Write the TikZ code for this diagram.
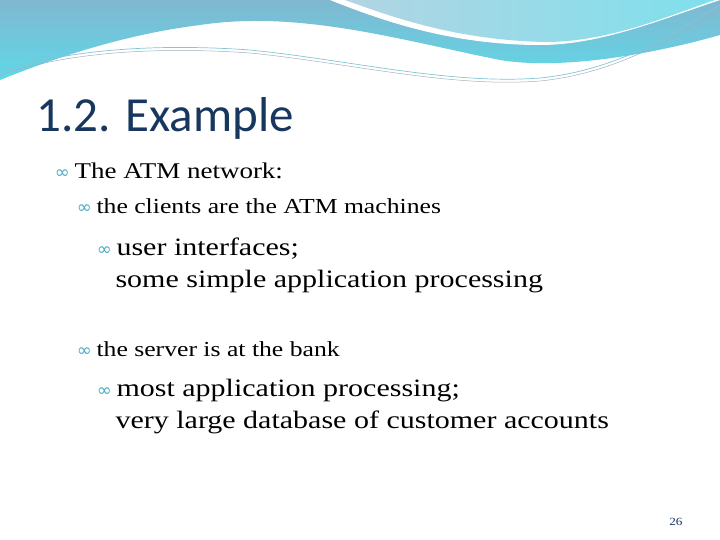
\documentclass[tikz,border=0pt]{standalone}
\usepackage{fontspec}
\setmainfont[FakeStretch=1.2]{Liberation Serif}
\newfontfamily\titlefont{Carlito}
\newfontfamily\symfont{DejaVu Sans}
\usetikzlibrary{positioning}
\definecolor{titleblue}{HTML}{17375E}
\definecolor{wavetop}{HTML}{7FB8D0}
\definecolor{wavelow}{HTML}{5FD8E8}
\definecolor{bulletteal}{HTML}{4BACC6}
\begin{document}
\begin{tikzpicture}[x=1pt,y=-1pt,
    lvlone/.style={anchor=base west,font=\fontsize{22.5}{26}\selectfont},
    lvltwo/.style={anchor=base west,font=\fontsize{21.4}{24}\selectfont},
    lvlthree/.style={anchor=base west,font=\fontsize{25}{30}\selectfont},
    bul/.style={anchor=base east,inner xsep=1pt,text=bulletteal,font=\symfont\fontsize{18}{18}\selectfont}]
  \useasboundingbox (0,0) rectangle (720,540);
  % top wave band
  \shade[top color=wavetop,bottom color=wavelow]
    (0,0) -- (720,0) -- (720,35) .. controls (650,55) and (560,70) .. (500,60)
    .. controls (400,40) and (300,10) .. (200,25) .. controls (120,35) and (50,60) .. (0,80) -- cycle;
  \fill[white] (330,0) .. controls (380,20) and (450,45) .. (540,45)
    .. controls (600,45) and (660,20) .. (720,0) -- cycle;
  \shade[left color=wavetop!60,right color=wavelow!80] (345,0) .. controls (400,20) and (460,40) .. (545,42)
    .. controls (610,42) and (670,15) .. (715,0) -- cycle;
  \draw[bulletteal!70,line width=0.7pt] (0,72) .. controls (80,45) and (180,45) .. (250,50)
    .. controls (350,60) and (450,85) .. (540,78) .. controls (620,70) and (680,30) .. (720,5);
  \draw[titleblue!40,line width=0.5pt] (0,75) .. controls (80,48) and (180,48) .. (250,53)
    .. controls (350,63) and (450,88) .. (540,81) .. controls (620,73) and (680,33) .. (720,10);
  % title
  \node[anchor=base west,text=titleblue,font=\titlefont\fontsize{49}{54}\selectfont] (title) at (33,132) {1.2. Example};
  % text
  \node[lvlone] (net) at (71,179) {The ATM network:};
  \node[bul] at (net.base west) {∞};
  \node[lvltwo] (cli) at (93,214) {the clients are the ATM machines};
  \node[bul] at (cli.base west) {∞};
  \node[lvlthree] (ui) at (113,255) {user interfaces;};
  \node[lvlthree] (uib) at (112,287) {some simple application processing};
  \node[bul] at (ui.base west) {∞};
  \node[lvltwo] (srv) at (93,356) {the server is at the bank};
  \node[bul] at (srv.base west) {∞};
  \node[lvlthree] (db) at (113,396) {most application processing;};
  \node[lvlthree] (dbb) at (112,428) {very large database of customer accounts};
  \node[bul] at (db.base west) {∞};
  \node[anchor=base east,text=titleblue,font=\fontsize{11}{11}\selectfont] (page) at (686,525) {26};
\end{tikzpicture}
\end{document}
